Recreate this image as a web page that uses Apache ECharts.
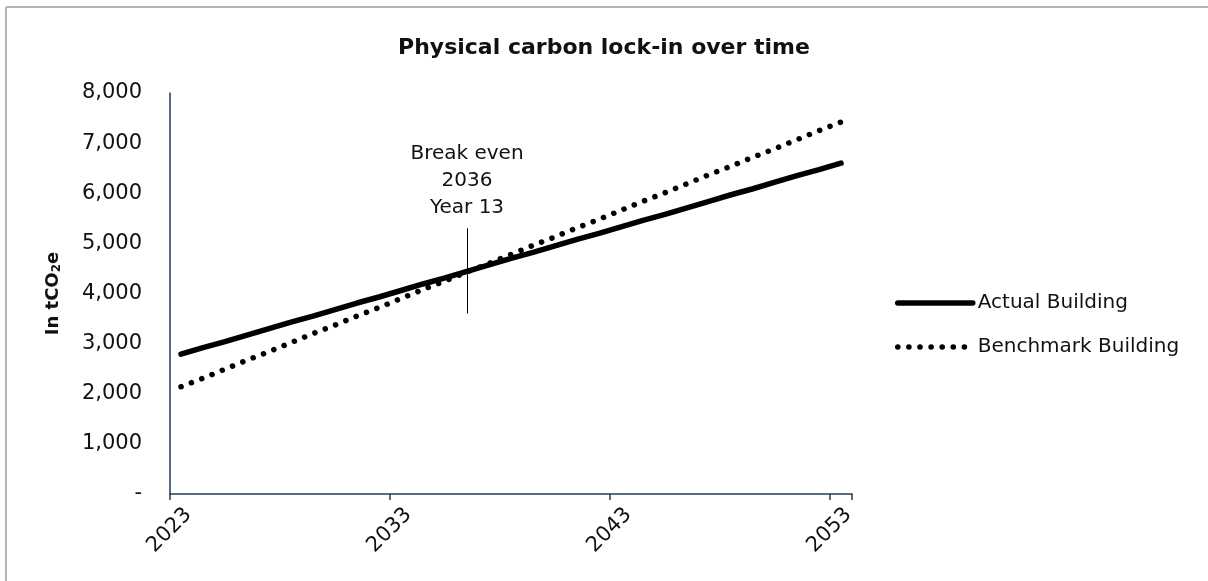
<!DOCTYPE html>
<html>
<head>
<meta charset="utf-8">
<title>Physical carbon lock-in over time</title>
<script src="https://cdn.jsdelivr.net/npm/echarts@6/dist/echarts.min.js"></script>
<style>
  html, body { margin: 0; padding: 0; background: #ffffff; }
  #chart { width: 1208px; height: 581px; }
</style>
</head>
<body>
<div id="chart"></div>
<script>
// Years on the horizontal axis
const years = [
  2023, 2024, 2025, 2026, 2027, 2028, 2029, 2030, 2031, 2032,
  2033, 2034, 2035, 2036, 2037, 2038, 2039, 2040, 2041, 2042,
  2043, 2044, 2045, 2046, 2047, 2048, 2049, 2050, 2051, 2052, 2053
];

// Cumulative carbon, tCO2e
const actualBuilding = [
  2790, 2920, 3040, 3170, 3300, 3430, 3550, 3680, 3810, 3930,
  4060, 4190, 4310, 4440, 4570, 4700, 4820, 4950, 5080, 5200,
  5330, 5460, 5580, 5710, 5840, 5970, 6090, 6220, 6350, 6470, 6600
];
const benchmarkBuilding = [
  2140, 2310, 2490, 2670, 2840, 3020, 3200, 3370, 3550, 3720,
  3900, 4080, 4250, 4430, 4600, 4780, 4960, 5130, 5310, 5480,
  5660, 5840, 6010, 6190, 6370, 6540, 6720, 6890, 7070, 7250, 7420
];

// Break-even marker
const breakEvenYear = 2036;
const breakEvenYearIndex = 13;
const breakEvenSpan = [3600, 5300];

// Value axis
const yMin = 0;
const yMax = 8000;
const yStep = 1000;

const FONT = '"DejaVu Sans", sans-serif';
const AXIS_COLOR = '#1f3a5f';
const INK = '#111111';
const DOTS = [0.1, 11];

const chart = echarts.init(document.getElementById('chart'), null, { renderer: 'canvas' });

function fmtThousands(v) {
  if (v === 0) return '-';
  return String(v).replace(/\B(?=(\d{3})+(?!\d))/g, ',');
}

chart.setOption({
  animation: false,
  backgroundColor: '#ffffff',
  textStyle: { fontFamily: FONT },
  title: {
    text: 'Physical carbon lock-in over time',
    left: 'center',
    top: 32,
    textStyle: { fontFamily: FONT, fontSize: 22, fontWeight: 'bold', color: INK }
  },
  graphic: [
    { type: 'line', shape: { x1: 6, y1: 7, x2: 1208, y2: 7 }, style: { stroke: '#b4b4bc', lineWidth: 2 } },
    { type: 'line', shape: { x1: 6, y1: 7, x2: 6, y2: 581 }, style: { stroke: '#b4b4bc', lineWidth: 2 } }
  ],
  legend: {
    orient: 'vertical',
    left: 895,
    top: 293,
    padding: 0,
    itemWidth: 75,
    itemHeight: 20,
    itemGap: 24,
    selectedMode: false,
    textStyle: { fontFamily: FONT, fontSize: 20, color: INK },
    data: [
      {
        name: 'Actual Building',
        itemStyle: { opacity: 0 },
        lineStyle: { width: 5.5, color: '#000', cap: 'round' }
      },
      {
        name: 'Benchmark Building',
        itemStyle: { opacity: 0 },
        lineStyle: { width: 5.5, color: '#000', type: DOTS, cap: 'round' }
      }
    ]
  },
  grid: { left: 170, right: 356, top: 93, bottom: 87, containLabel: false },
  xAxis: {
    type: 'category',
    data: years.map(String),
    boundaryGap: true,
    axisLine: { show: true, lineStyle: { color: AXIS_COLOR, width: 1.5 } },
    axisTick: { show: true, interval: 9, length: 6, lineStyle: { color: AXIS_COLOR, width: 1.5 } },
    axisLabel: {
      interval: 9,
      rotate: 45,
      margin: 10,
      verticalAlign: 'top',
      fontFamily: FONT,
      fontSize: 21,
      color: INK
    },
    splitLine: { show: false }
  },
  yAxis: {
    type: 'value',
    min: yMin,
    max: yMax,
    interval: yStep,
    name: 'In tCO{sub|2}e',
    nameLocation: 'middle',
    nameRotate: 90,
    nameGap: 107,
    nameTextStyle: {
      fontFamily: FONT, fontSize: 18, fontWeight: 'bold', color: INK,
      rich: { sub: { fontFamily: FONT, fontSize: 12, fontWeight: 'bold', color: INK, verticalAlign: 'bottom', padding: [8, 0, 0, 0] } }
    },
    axisLine: { show: true, lineStyle: { color: AXIS_COLOR, width: 1.5 } },
    axisTick: { show: false },
    axisLabel: { margin: 28, fontFamily: FONT, fontSize: 21, color: INK, formatter: fmtThousands },
    splitLine: { show: false }
  },
  series: [
    {
      name: 'Actual Building',
      type: 'line',
      data: actualBuilding,
      symbol: 'none',
      lineStyle: { color: '#000', width: 5.5, cap: 'round' },
      itemStyle: { color: '#000' },
      z: 3,
      markLine: {
        silent: true,
        symbol: ['none', 'none'],
        lineStyle: { color: '#000', width: 1, type: 'solid' },
        label: {
          show: true,
          position: 'end',
          distance: 7,
          formatter: 'Break even\n' + breakEvenYear + '\nYear ' + breakEvenYearIndex,
          fontFamily: FONT,
          fontSize: 20,
          lineHeight: 27,
          color: INK,
          align: 'center'
        },
        data: [[
          { coord: [String(breakEvenYear), breakEvenSpan[0]] },
          { coord: [String(breakEvenYear), breakEvenSpan[1]] }
        ]]
      }
    },
    {
      name: 'Benchmark Building',
      type: 'line',
      data: benchmarkBuilding,
      symbol: 'none',
      lineStyle: { color: '#000', width: 5.5, type: DOTS, cap: 'round' },
      itemStyle: { color: '#000' },
      z: 2
    }
  ]
});
</script>
</body>
</html>
